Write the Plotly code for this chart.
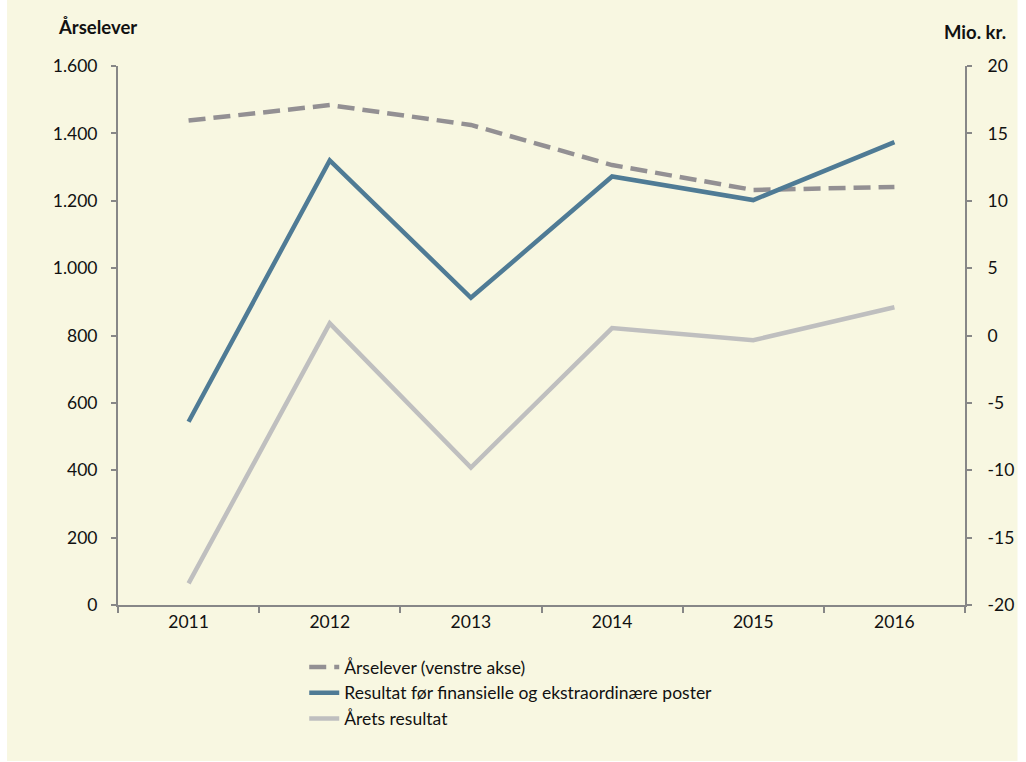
import plotly.graph_objects as go

years = ["2011", "2012", "2013", "2014", "2015", "2016"]
aarselever = [1438, 1484, 1425, 1306, 1232, 1241]
resultat_foer = [-6.4, 13.0, 2.8, 11.8, 10.05, 14.35]
aarets_resultat = [-18.4, 0.9, -9.8, 0.55, -0.35, 2.1]

left_ticks = [0, 200, 400, 600, 800, 1000, 1200, 1400, 1600]
left_ticktext = ["0", "200", "400", "600", "800", "1.000", "1.200", "1.400", "1.600"]
right_ticks = [-20, -15, -10, -5, 0, 5, 10, 15, 20]
right_ticktext = ["-20", "-15", "-10", "-5", "0", "5", "10", "15", "20"]

names = ["Årselever (venstre akse)",
         "Resultat før finansielle og ekstraordinære poster",
         "Årets resultat"]

BG = "#F8F7E1"
AX = "#878787"
FONT = "Lato, 'Open Sans', sans-serif"
FS = 17.5

fig = go.Figure()
fig.add_trace(go.Scatter(x=years, y=aarselever, name=names[0], mode="lines",
                         line=dict(color="#939093", width=4.5, dash="17px,8px"),
                         yaxis="y"))
fig.add_trace(go.Scatter(x=years, y=resultat_foer, name=names[1], mode="lines",
                         line=dict(color="#4F7B95", width=4.5), yaxis="y2"))
fig.add_trace(go.Scatter(x=years, y=aarets_resultat, name=names[2], mode="lines",
                         line=dict(color="#BFBFBF", width=4.5), yaxis="y2"))

W, H = 1026, 762
L, R, T, B = 118, 973, 66, 605
pw, ph = R - L, B - T

def px_x(p):
    return (p - L) / pw

def px_y(p):
    return (B - p) / ph

fig.update_layout(
    width=W, height=H, autosize=False,
    margin=dict(l=L, r=W - R, t=T, b=H - B, pad=0),
    paper_bgcolor="white",
    plot_bgcolor=BG,
    font=dict(family=FONT, size=FS, color="#111111"),
    showlegend=True,
    legend=dict(x=px_x(306), y=px_y(649), xanchor="left", yanchor="top",
                bgcolor="rgba(0,0,0,0)", font=dict(size=FS, family=FONT),
                tracegroupgap=0, itemwidth=30),
    xaxis=dict(type="category", range=[-0.5, 5.5], showline=True, linecolor=AX,
               linewidth=2, ticks="outside", tickson="boundaries", ticklen=6,
               tickcolor=AX, tickwidth=1.5, showgrid=False, zeroline=False,
               tickfont=dict(size=FS), fixedrange=True),
    yaxis=dict(range=[0, 1600], tickvals=left_ticks, ticktext=left_ticktext,
               showline=True, linecolor=AX, linewidth=2, ticks="outside",
               ticklen=5, tickcolor=AX, tickwidth=1.5, showgrid=False,
               zeroline=False, tickfont=dict(size=FS), ticklabelstandoff=10),
    yaxis2=dict(range=[-20, 20], tickvals=right_ticks, ticktext=right_ticktext,
                overlaying="y", side="right", showline=True, linecolor=AX,
                linewidth=2, ticks="outside", ticklen=5, tickcolor=AX,
                tickwidth=1.5, showgrid=False, zeroline=False,
                tickfont=dict(size=FS), ticklabelstandoff=12),
    shapes=[dict(type="rect", xref="paper", yref="paper", layer="below",
                 x0=px_x(6), x1=px_x(W), y0=px_y(H - 1), y1=px_y(0),
                 fillcolor=BG, line=dict(width=0))],
    annotations=[
        dict(text="<b>Årselever</b>", xref="paper", yref="paper",
             x=px_x(55), y=px_y(27), xanchor="left", yanchor="middle",
             showarrow=False, font=dict(size=18.5)),
        dict(text="<b>Mio. kr.</b>", xref="paper", yref="paper",
             x=px_x(1016), y=px_y(32), xanchor="right", yanchor="middle",
             showarrow=False, font=dict(size=18.5)),
    ],
)

fig.write_html("out.html",
               config={"displayModeBar": False, "responsive": False},
               post_script="document.documentElement.style.margin='0';"
                           "document.body.style.margin='0';"
                           "document.body.style.overflow='hidden';")
